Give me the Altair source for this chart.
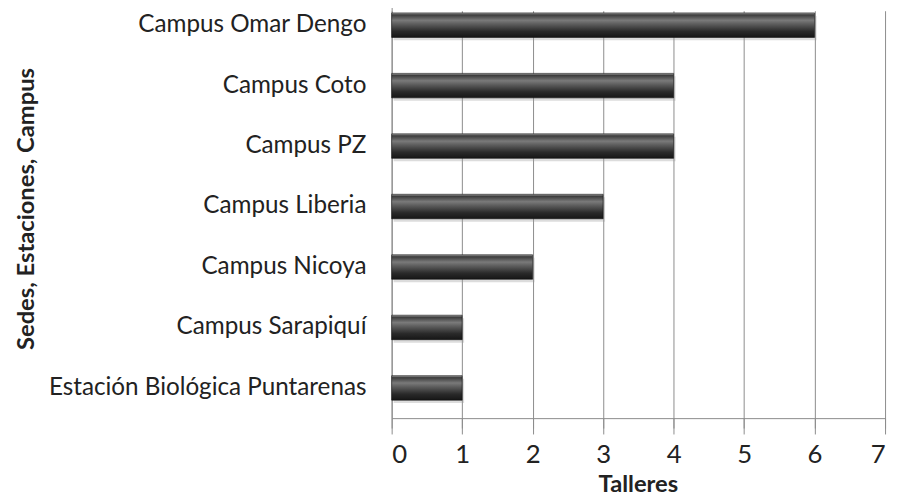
import altair as alt
import pandas as pd

categories = [
    "Campus Omar Dengo",
    "Campus Coto",
    "Campus PZ",
    "Campus Liberia",
    "Campus Nicoya",
    "Campus Sarapiquí",
    "Estación Biológica Puntarenas",
]
talleres = [6, 4, 4, 3, 2, 1, 1]
x_ticks = [0, 1, 2, 3, 4, 5, 6, 7]

df = pd.DataFrame({"sede": categories, "talleres": talleres})

FONT = "Lato"

gradient = alt.LinearGradient(
    gradient="linear",
    x1=0, y1=0, x2=0, y2=1,
    stops=[
        alt.GradientStop(offset=0.0, color="#a8a8a8"),
        alt.GradientStop(offset=0.08, color="#3c3c3c"),
        alt.GradientStop(offset=0.3, color="#7a7a7a"),
        alt.GradientStop(offset=0.45, color="#5e5e5e"),
        alt.GradientStop(offset=0.75, color="#2a2a2a"),
        alt.GradientStop(offset=1.0, color="#161616"),
    ],
)

y_scale = alt.Scale(domain=categories, range=[-16, 412], paddingInner=0.595, paddingOuter=0.2975)
x_scale = alt.Scale(domain=[0, 7], nice=False)

x_enc = alt.X(
    "talleres:Q",
    scale=x_scale,
    axis=alt.Axis(
        values=x_ticks,
        format="d",
        title="Talleres",
        grid=True,
        gridColor="#8c8c8c",
        gridWidth=1,
        domainColor="#8c8c8c",
        tickColor="#8c8c8c",
        tickSize=10,
        labelFont=FONT,
        labelFontSize=26,
        labelColor="#222222",
        labelPadding=14,
        titleFont=FONT,
        titleFontSize=24,
        titleFontWeight="bold",
        titleColor="#222222",
        titleX=249,
        titleY=74,
        titleBaseline="alphabetic",
    ),
)

y_enc = alt.Y(
    "sede:N",
    scale=y_scale,
    sort=categories,
    axis=alt.Axis(
        title="Sedes, Estaciones, Campus",
        ticks=False,
        grid=False,
        domainColor="#8c8c8c",
        labelFont=FONT,
        labelFontSize=24.5,
        labelColor="#222222",
        labelPadding=26,
        labelLimit=400,
        titleFont=FONT,
        titleFontSize=24,
        titleFontWeight="bold",
        titleColor="#222222",
        titleX=-369,
        titleY=200,
        titleAngle=270,
        titleAlign="center",
        titleBaseline="middle",
    ),
)

shadow = alt.Chart(df).mark_bar(color="#9a9a9a", opacity=0.35, yOffset=3, xOffset=2).encode(
    x=x_enc, y=y_enc
)

bars = alt.Chart(df).mark_bar(color=gradient, stroke="#111111", strokeWidth=0.6).encode(
    x=x_enc, y=y_enc
)

chart = (
    alt.layer(shadow, bars)
    .properties(
        width=499,
        height=412,
        autosize=alt.AutoSizeParams(type="none"),
        padding={"left": 388, "top": 0, "right": 6, "bottom": 80},
        background="white",
    )
    .configure_view(stroke=None)
)

chart.save("out.html", embed_options={"renderer": "svg", "actions": False})
